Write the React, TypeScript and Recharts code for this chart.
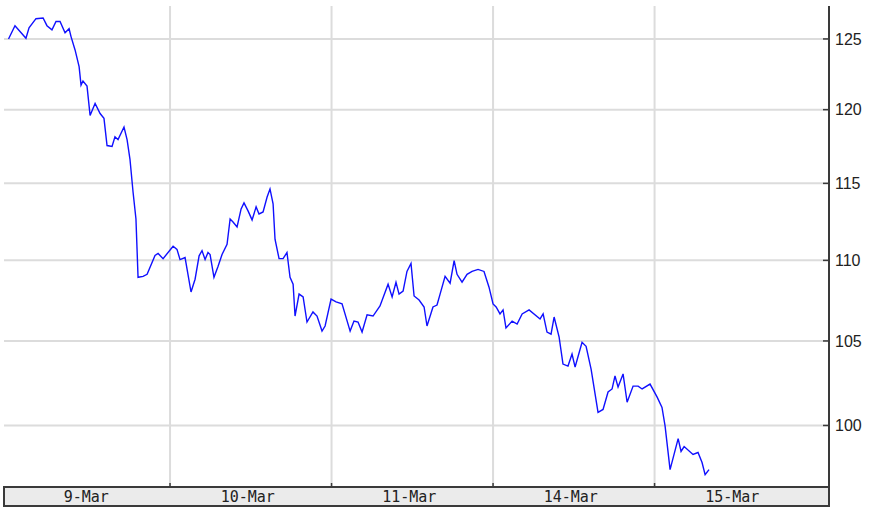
import React from 'react';
import { LineChart, Line, XAxis, YAxis, CartesianGrid } from 'recharts';

const dayLabels = ['9-Mar', '10-Mar', '11-Mar', '14-Mar', '15-Mar'];
const dayBoundaries = [1, 2, 3, 4];
const bottomTicks = [0.5, 1, 1.5, 2, 2.5, 3, 3.5, 4, 4.5];
const priceTicks = [100, 105, 110, 115, 120, 125];

// time in trading days since the open of 9-Mar
const times = [
  0.0, 0.04, 0.108, 0.127, 0.17, 0.214, 0.238, 0.269, 0.294, 0.319,
  0.35, 0.375, 0.387, 0.412, 0.437, 0.449, 0.461, 0.486, 0.505, 0.536,
  0.567, 0.591, 0.61, 0.641, 0.659, 0.678, 0.715, 0.734, 0.752, 0.771,
  0.789, 0.802, 0.833, 0.858, 0.907, 0.926, 0.957, 1.019, 1.043, 1.062,
  1.093, 1.13, 1.155, 1.18, 1.198, 1.217, 1.235, 1.248, 1.272, 1.297,
  1.322, 1.353, 1.372, 1.39, 1.415, 1.44, 1.458, 1.483, 1.508, 1.533,
  1.551, 1.576, 1.601, 1.619, 1.638, 1.65, 1.675, 1.7, 1.724, 1.743,
  1.762, 1.774, 1.799, 1.824, 1.848, 1.885, 1.91, 1.941, 1.96, 1.997,
  2.028, 2.065, 2.115, 2.139, 2.164, 2.189, 2.22, 2.257, 2.3, 2.35,
  2.375, 2.399, 2.418, 2.443, 2.467, 2.492, 2.511, 2.542, 2.573, 2.591,
  2.628, 2.653, 2.672, 2.703, 2.734, 2.759, 2.777, 2.808, 2.839, 2.87,
  2.907, 2.944, 2.975, 3.0, 3.019, 3.043, 3.062, 3.08, 3.118, 3.149,
  3.18, 3.223, 3.291, 3.31, 3.334, 3.359, 3.378, 3.409, 3.433, 3.464,
  3.489, 3.508, 3.551, 3.576, 3.607, 3.65, 3.681, 3.712, 3.737, 3.755,
  3.774, 3.805, 3.83, 3.867, 3.898, 3.923, 3.972, 4.016, 4.046, 4.065,
  4.096, 4.146, 4.164, 4.183, 4.238, 4.269, 4.294, 4.313, 4.337,
];

const prices = [
  125.0, 125.96, 125.05, 125.81, 126.47, 126.52, 125.96, 125.66, 126.27, 126.27,
  125.44, 125.74, 125.17, 124.21, 123.02, 121.71, 122.0, 121.64, 119.6, 120.43,
  119.73, 119.4, 117.54, 117.48, 118.14, 117.94, 118.8, 117.94, 116.61, 114.43,
  112.66, 108.93, 108.99, 109.12, 110.31, 110.44, 110.11, 110.9, 110.7, 110.05,
  110.18, 108.01, 108.81, 110.29, 110.62, 110.05, 110.5, 110.37, 108.93, 109.61,
  110.37, 111.03, 112.66, 112.46, 112.14, 113.32, 113.71, 113.19, 112.6, 113.45,
  112.99, 113.12, 114.1, 114.63, 113.65, 111.35, 110.11, 110.11, 110.5, 108.93,
  108.5, 106.52, 107.88, 107.7, 106.15, 106.77, 106.52, 105.6, 105.91, 107.57,
  107.39, 107.27, 105.6, 106.21, 106.15, 105.54, 106.59, 106.52, 107.14, 108.5,
  107.7, 108.62, 107.88, 108.07, 109.3, 109.8, 107.76, 107.51, 107.08, 105.91,
  107.08, 107.2, 107.88, 108.99, 108.56, 109.98, 109.12, 108.62, 109.12, 109.3,
  109.43, 109.3, 108.31, 107.27, 107.08, 106.65, 106.9, 105.79, 106.21, 106.03,
  106.65, 106.9, 106.34, 106.65, 105.54, 105.41, 106.46, 105.23, 103.61, 103.49,
  104.21, 103.43, 104.92, 104.68, 103.31, 100.76, 100.93, 101.95, 102.13, 102.9,
  102.24, 103.02, 101.35, 102.3, 102.3, 102.13, 102.42, 101.65, 101.05, 99.98,
  97.48, 99.24, 98.51, 98.79, 98.34, 98.45, 97.88, 97.2, 97.48,
];

const data = times.map((t, i) => ({ t, price: prices[i] }));

const FRAME = '#3a3a3a';

const NoLabel = () => <g />;

const BottomTick = (props: any) => {
  const { x, y, payload } = props;
  const v = payload.value as number;
  if (Number.isInteger(v)) {
    return <line x1={x} y1={y} x2={x} y2={y - 4} stroke={FRAME} strokeWidth={1.5} />;
  }
  return (
    <text
      x={x - 3}
      y={y + 15}
      textAnchor="middle"
      fontFamily="'DejaVu Sans Mono', monospace"
      fontSize={15}
      fill="#222"
    >
      {dayLabels[Math.floor(v)]}
    </text>
  );
};

export default function App() {
  return (
    <div style={{ position: 'absolute', left: 0, top: 0, width: 869, height: 510, background: '#fff' }}>
      <div
        style={{
          position: 'absolute',
          left: 3,
          top: 486,
          width: 827,
          height: 21,
          boxSizing: 'border-box',
          border: `2px solid ${FRAME}`,
          background: '#ebebeb',
        }}
      />
      <LineChart width={869} height={510} data={data} margin={{ top: 6, right: 0, bottom: 4, left: 4 }}>
        <CartesianGrid
          xAxisId="top"
          yAxisId="right"
          stroke="#dcdcdc"
          strokeWidth={2}
          verticalValues={dayBoundaries}
          horizontalValues={priceTicks}
        />
        <XAxis
          xAxisId="top"
          orientation="top"
          dataKey="t"
          type="number"
          domain={[-0.028, 5.08]}
          allowDataOverflow
          ticks={dayBoundaries}
          interval={0}
          height={0}
          tick={<NoLabel />}
          tickSize={-4}
          axisLine={{ stroke: FRAME, strokeWidth: 2 }}
          tickLine={{ stroke: FRAME, strokeWidth: 1.5 }}
        />
        <XAxis
          xAxisId="bottom"
          orientation="bottom"
          dataKey="t"
          type="number"
          domain={[-0.028, 5.08]}
          allowDataOverflow
          ticks={bottomTicks}
          height={19}
          tickSize={0}
          tickMargin={0}
          tickLine={false}
          interval={0}
          tick={<BottomTick />}
          axisLine={{ stroke: FRAME, strokeWidth: 2 }}
        />
        <YAxis
          yAxisId="right"
          orientation="right"
          scale="log"
          domain={[96.51, 127.4]}
          allowDataOverflow
          ticks={priceTicks}
          interval={0}
          width={40}
          tickSize={-6}
          tickMargin={12}
          axisLine={{ stroke: FRAME, strokeWidth: 2 }}
          tickLine={{ stroke: FRAME, strokeWidth: 1.5 }}
          tick={{ fill: '#222', fontSize: 16, fontFamily: "'Liberation Sans', Arial, sans-serif", textAnchor: 'start' }}
        />
        <YAxis
          yAxisId="left"
          orientation="left"
          scale="log"
          domain={[96.51, 127.4]}
          allowDataOverflow
          ticks={priceTicks}
          interval={0}
          width={0}
          tickSize={-4}
          tick={<NoLabel />}
          axisLine={{ stroke: FRAME, strokeWidth: 2 }}
          tickLine={{ stroke: FRAME, strokeWidth: 1.5 }}
        />
        <Line
          xAxisId="top"
          yAxisId="right"
          type="linear"
          dataKey="price"
          stroke="#1010ff"
          strokeWidth={1.4}
          dot={false}
          isAnimationActive={false}
        />
      </LineChart>
    </div>
  );
}
